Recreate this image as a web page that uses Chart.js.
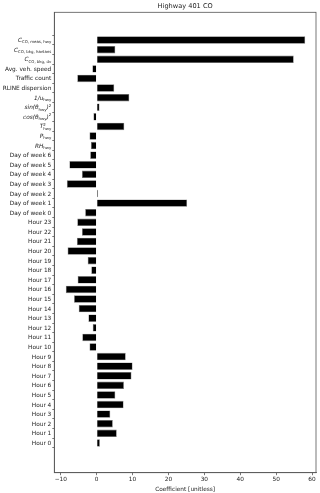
<!DOCTYPE html>
<html>
<head>
<meta charset="utf-8">
<script src="https://cdn.jsdelivr.net/npm/chart.js@4"></script>
<style>
  html, body { margin: 0; padding: 0; background: #fff; }
  canvas { display: block; }
</style>
</head>
<body>
<canvas id="chart" width="320" height="493"></canvas>
<script>
// Chart data (top to bottom). A leading '$' marks a math label, _{..} subscript, ^{..} superscript
const titleText = 'Highway 401 CO';
const xTitle = 'Coefficient [unitless]';
const categories = [
  '$C_{CO, meas, hwy}', '$C_{CO, bkg, hanlans}', '$C_{CO, bkg, dv}',
  'Avg. veh. speed', 'Traffic count', 'RLINE dispersion',
  '$1/u_{hwy}', '$sin(θ_{hwy})^{2}', '$cos(θ_{hwy})^{2}', '$T^{2}_{hwy}',
  '$P_{hwy}', '$RH_{hwy}',
  'Day of week 6', 'Day of week 5', 'Day of week 4', 'Day of week 3',
  'Day of week 2', 'Day of week 1', 'Day of week 0',
  'Hour 23', 'Hour 22', 'Hour 21', 'Hour 20', 'Hour 19', 'Hour 18',
  'Hour 17', 'Hour 16', 'Hour 15', 'Hour 14', 'Hour 13', 'Hour 12',
  'Hour 11', 'Hour 10', 'Hour 9', 'Hour 8', 'Hour 7', 'Hour 6',
  'Hour 5', 'Hour 4', 'Hour 3', 'Hour 2', 'Hour 1', 'Hour 0'
];
const coefficients = [
  58.1, 5.2, 54.9,
  -1.2, -5.4, 4.9,
  9.1, 0.8, -0.9, 7.7,
  -2.0, -1.6,
  -1.8, -7.6, -4.1, -8.3,
  0.4, 25.2, -3.2,
  -5.4, -4.1, -5.5, -8.1, -2.5, -1.5,
  -5.3, -8.6, -6.3, -5.0, -2.3, -1.1,
  -4.0, -2.0, 8.1, 10.0, 9.7, 7.6,
  5.2, 7.5, 3.8, 4.5, 5.6, 0.9
];
const xTicks = [-10, 0, 10, 20, 30, 40, 50, 60];

const FONT = 'DejaVu Sans';
const TEXT = '#222';
const AXIS = '#555';

// split a label into base / sub / sup pieces
function parseLabel(s) {
  const math = s.startsWith('$');
  if (math) s = s.slice(1);
  const segs = [];
  const re = /([_^])\{([^}]*)\}/g;
  let last = 0, m;
  while ((m = re.exec(s))) {
    if (m.index > last) segs.push({ t: s.slice(last, m.index), k: 'base' });
    segs.push({ t: m[2], k: m[1] === '_' ? 'sub' : 'sup' });
    last = re.lastIndex;
  }
  if (last < s.length) segs.push({ t: s.slice(last), k: 'base' });
  return { math, segs };
}

function segFont(seg, math) {
  if (seg.k === 'base') return (math ? 'italic ' : '') + '5.8px "' + FONT + '"';
  return '3.9px "' + FONT + '"';
}

// draws title, frame and the y labels
const decor = {
  id: 'decor',
  afterDraw(chart) {
    const c = chart.ctx;
    const a = chart.chartArea;
    c.save();
    // frame
    c.strokeStyle = AXIS;
    c.lineWidth = 0.8;
    c.strokeRect(a.left, a.top, a.right - a.left, a.bottom - a.top);
    // title
    c.fillStyle = TEXT;
    c.font = '6.6px "' + FONT + '"';
    c.textAlign = 'center';
    c.textBaseline = 'middle';
    c.fillText(titleText, (a.left + a.right) / 2, 6.5);
    // y labels
    const ys = chart.scales.y;
    c.textAlign = 'left';
    c.textBaseline = 'alphabetic';
    categories.forEach((lab, i) => {
      const { math, segs } = parseLabel(lab);
      // measure
      const items = [];
      let w = 0;
      for (let j = 0; j < segs.length; j++) {
        const s = segs[j];
        c.font = segFont(s, math);
        const sw = c.measureText(s.t).width;
        if (s.k === 'sup' && segs[j + 1] && segs[j + 1].k === 'sub') {
          const n = segs[j + 1];
          c.font = segFont(n, math);
          const nw = c.measureText(n.t).width;
          items.push({ s, x: w }, { s: n, x: w });
          w += Math.max(sw, nw);
          j++;
        } else {
          items.push({ s, x: w });
          w += sw;
        }
      }
      const right = a.left - 3;
      const y0 = ys.getPixelForValue(i) + 2;
      items.forEach(it => {
        c.font = segFont(it.s, math);
        let dy = 0;
        if (it.s.k === 'sub') dy = 1.3;
        if (it.s.k === 'sup') dy = -2.6;
        c.fillText(it.s.t, right - w + it.x, y0 + dy);
      });
    });
    c.restore();
  }
};

new Chart(document.getElementById('chart'), {
  type: 'bar',
  data: {
    datasets: [{
      data: coefficients.map((v, i) => ({ x: v, y: i })),
      backgroundColor: '#000',
      borderColor: '#777',
      borderWidth: 0.6,
      barPercentage: 0.78,
      categoryPercentage: 1
    }]
  },
  options: {
    indexAxis: 'y',
    responsive: false,
    devicePixelRatio: 1,
    animation: false,
    layout: { padding: { top: 12.3, right: 4, left: 0, bottom: 0 } },
    plugins: { legend: { display: false }, tooltip: { enabled: false }, title: { display: false } },
    scales: {
      x: {
        type: 'linear',
        min: -11.8,
        max: 61.1,
        afterBuildTicks: s => { s.ticks = xTicks.map(v => ({ value: v })); },
        afterFit: s => { s.height = 20.3; },
        grid: { drawOnChartArea: false, tickLength: 2.5, tickColor: AXIS, tickWidth: 0.8 },
        border: { color: AXIS, width: 0.8 },
        ticks: {
          color: TEXT,
          font: { family: FONT, size: 5.8 },
          padding: 1,
          maxRotation: 0,
          callback: v => String(v).replace('-', '\u2212')
        },
        title: { display: true, text: xTitle, color: TEXT, font: { family: FONT, size: 5.8 }, padding: { top: 1, bottom: 0 } }
      },
      y: {
        type: 'linear',
        reverse: true,
        min: -2.34,
        max: 44.55,
        afterBuildTicks: s => { s.ticks = categories.map((_, i) => ({ value: i })); },
        afterFit: s => { s.width = 54.3; },
        grid: { drawOnChartArea: false, tickLength: 2, tickColor: AXIS, tickWidth: 0.8 },
        border: { color: AXIS, width: 0.8 },
        ticks: { display: false }
      }
    }
  },
  plugins: [decor]
});
</script>
</body>
</html>
